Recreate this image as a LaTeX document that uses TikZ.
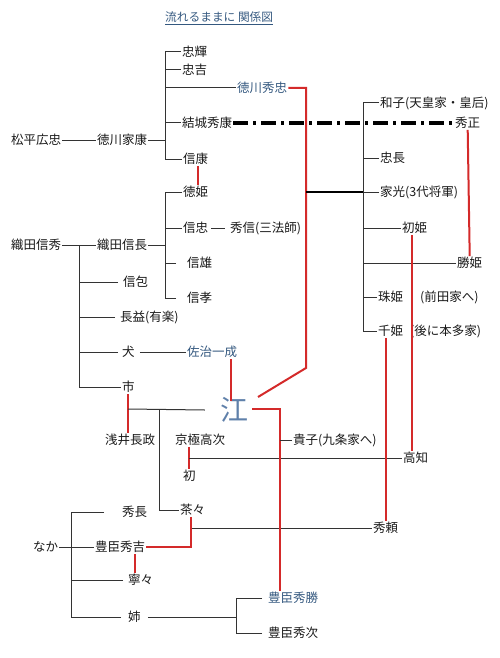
\documentclass[tikz,border=0pt]{standalone}
\usepackage{fontspec}
\newfontfamily\jp{Noto Sans CJK JP}
\definecolor{lnred}{HTML}{D42A2A}
\definecolor{txblue}{HTML}{34587F}
\definecolor{goblue}{HTML}{5F80AA}
\definecolor{godark}{HTML}{3F5F88}
\begin{document}
\begin{tikzpicture}[x=1pt,y=-1pt,
  lbl/.style={font={\jp\fontsize{12.5}{14}\selectfont}, inner sep=1pt, anchor=west, text=black!90},
  bluelbl/.style={lbl, text=txblue},
  bline/.style={line width=1pt, black!80},
  thick line/.style={line width=2pt, black},
  rline/.style={line width=2pt, lnred},
  dashline/.style={line width=3.3pt, black, dash pattern=on 15pt off 5pt on 3pt off 5pt}
]
\useasboundingbox (0,0) rectangle (500,658);

% title
\node[anchor=west, inner sep=1pt, text=txblue, font={\jp\fontsize{11.7}{13}\selectfont}] (title) at (164,18) {\underline{流れるままに 関係図}};

% ---------- Tokugawa ----------
\node[lbl] (hirotada) at (10,140) {松平広忠};
\node[lbl] (ieyasu) at (96,140) {徳川家康};
\node[lbl] (tadateru) at (181,52) {忠輝};
\node[lbl] (tadayoshi) at (181,70) {忠吉};
\node[bluelbl] (hidetada) at (236,88) {徳川秀忠};
\node[lbl] (hideyasu) at (181,123) {結城秀康};
\node[lbl] (nobuyasu) at (182,159) {信康};

\node[lbl] (kazuko) at (379,103) {和子(天皇家・皇后)};
\node[lbl] (hidemasa) at (454,123) {秀正};
\node[lbl] (tadanaga) at (379,158) {忠長};
\node[lbl] (iemitsu) at (379,192) {家光(3代将軍)};
\node[lbl] (hatsuhime) at (401,228) {初姫};
\node[lbl] (katsuhime) at (456,263) {勝姫};
\node[lbl] (tamahime) at (377,297) {珠姫};
\node[lbl] (maeda) at (419,297) {(前田家へ)};
\node[lbl] (senhime) at (377,331) {千姫};
\node[lbl] (honda) at (409,331) {(後に本多家)};

\coordinate (jIe) at (165,140);
\coordinate (jKids) at (363,192);
\coordinate (rTop) at (306,88);
\coordinate (rBend) at (306,368);
\coordinate (rEnd) at (258,397);

\draw[bline] (hirotada) -- (ieyasu);
\draw[bline] (ieyasu) -- (jIe);
\draw[bline] (tadateru.west) -| (jIe);
\draw[bline] (nobuyasu.west) -| (jIe);
\draw[bline] (tadayoshi.west) -- (tadayoshi.west -| jIe);
\draw[bline] (hidetada.west) -- (hidetada.west -| jIe);
\draw[bline] (hideyasu.west) -- (hideyasu.west -| jIe);

\draw[dashline] (hideyasu.east) -- (hidemasa.west);

\draw[rline] (hidetada.east) -- (rTop) -- (rBend) -- (rEnd);
\draw[thick line] (rTop |- jKids) -- (jKids);

\draw[bline] (kazuko.west) -| (jKids);
\draw[bline] (senhime.west) -| (jKids);
\draw[bline] (tadanaga.west) -- (tadanaga.west -| jKids);
\draw[bline] (iemitsu.west) -- (jKids);
\draw[bline] (hatsuhime.west) -- (hatsuhime.west -| jKids);
\draw[bline] (katsuhime.west) -- (katsuhime.west -| jKids);
\draw[bline] (tamahime.west) -- (tamahime.west -| jKids);

\draw[rline] (hidemasa.south) -- (katsuhime.north);

% ---------- Oda ----------
\node[lbl] (nobuhide) at (10,245) {織田信秀};
\node[lbl] (nobunaga) at (96,245) {織田信長};
\node[lbl] (tokuhime) at (182,192) {徳姫};
\node[lbl] (nobutada) at (182,228) {信忠};
\node[lbl] (hidenobu) at (229,228) {秀信(三法師)};
\node[lbl] (nobukatsu) at (186,263) {信雄};
\node[lbl] (nobutaka) at (186,298) {信孝};
\node[lbl] (nobukane) at (122,282) {信包};
\node[lbl] (nagamasu) at (119,317) {長益(有楽)};
\node[lbl] (inu) at (121,352) {犬};
\node[bluelbl] (saji) at (186,352) {佐治一成};
\node[lbl] (ichi) at (121,387) {市};

\coordinate (jNh) at (79,245);
\coordinate (jNn) at (165,245);

\draw[bline] (nobuhide) -- (nobunaga);
\draw[bline] (ichi.west) -| (jNh);
\draw[bline] (nobukane.west) ++(-4,0) -- (nobukane.west -| jNh);
\draw[bline] (nagamasu.west) ++(-4,0) -- (nagamasu.west -| jNh);
\draw[bline] (inu.west) ++(-3,0) -- (inu.west -| jNh);

\draw[bline] (nobunaga) -- (jNn);
\draw[bline] (tokuhime.west) -| (jNn);
\draw[bline] (nobutaka.west) ++(-10,0) -| (jNn);
\draw[bline] (nobutada.west) -- (nobutada.west -| jNn);
\draw[bline] (nobukatsu.west) ++(-10,0) -- (nobukatsu.west -| jNn);
\draw[bline] (nobutada.east) ++(2,0) -- ([xshift=-4pt]hidenobu.west);
\draw[bline] (inu.east) ++(4,0) -- (saji.west);

\draw[rline, line width=1.6pt] (nobuyasu.south) ++(2,0) -- ([xshift=2pt]tokuhime.north);

% ---------- Go and Azai ----------
\node[text=goblue, font={\jp\fontsize{28}{30}\selectfont}, inner sep=0pt] (go) at (234,410) {江};
\node[lbl] (azai) at (104,440) {浅井長政};
\node[lbl] (kyogoku) at (174,440) {京極高次};
\node[lbl] (hatsu) at (182,476) {初};
\node[lbl] (chacha) at (179,510) {茶々};
\node[lbl] (takako) at (292,440) {貴子(九条家へ)};
\node[lbl] (takatomo) at (402,458) {高知};
\node[lbl] (hideyori) at (372,528) {秀頼};

\coordinate (jIchi) at (128,409);
\coordinate (jGo) at (159,409);
\coordinate (jCha) at (191,528);
\coordinate (rGo) at (280,409);

\draw[rline] ([xshift=-3pt]go.north |- saji.south) -- ([xshift=-3pt,yshift=-4pt]go.north);
\draw[rline] (ichi.south) -- (ichi.south |- azai.north);
\draw[bline] (jIchi) -- ([xshift=-15pt]go.west);
\draw[bline] (jGo) |- (chacha.west);

\draw[rline] (kyogoku.south -| hatsu.north) -- (hatsu.north);
\draw[bline] (hatsu.north |- takatomo.west) -- (takatomo.west);
\draw[rline] (hatsuhime.south) ++(-3,0) -- ([xshift=-3pt]hatsuhime.south |- takatomo.north);

\draw[rline] (hideyori.north |- senhime.south) -- (hideyori.north);
\draw[bline] (jCha) -- (hideyori.west);

% ---------- Toyotomi ----------
\node[lbl] (naka) at (32,547) {なか};
\node[lbl] (hidenaga) at (121,512) {秀長};
\node[lbl] (hideyoshi) at (94,547) {豊臣秀吉};
\node[lbl] (nene) at (127,580) {寧々};
\node[lbl] (ane) at (127,617) {姉};
\node[bluelbl] (hidekatsu) at (267,598) {豊臣秀勝};
\node[lbl] (hidetsugu) at (267,633) {豊臣秀次};

\coordinate (jNaka) at (71,547);
\coordinate (jAne) at (236,617);

\draw[rline] (go.east) ++(4,-1) -- (rGo) -- (rGo |- hidekatsu.north);
\draw[bline] (rGo |- takako.west) -- (takako.west);

\draw[rline] (chacha.south -| jCha) -- (jCha |- hideyoshi.east) -- (hideyoshi.east);

\draw[bline] (naka) -- (hideyoshi);
\draw[bline] ([xshift=-17pt]hidenaga.west) -| (jNaka);
\draw[bline] (ane.west) ++(-6,0) -| (jNaka);
\draw[bline] (nene.west) ++(-4,0) -- (nene.west -| jNaka);
\draw[rline] ([xshift=-6pt]nene.north |- hideyoshi.south) -- ([xshift=-6pt]nene.north);

\draw[bline] (ane.east) ++(6,0) -- (jAne);
\draw[bline] ([xshift=-5pt]hidekatsu.west) -| (jAne);
\draw[bline] ([xshift=-5pt]hidetsugu.west) -| (jAne);
\end{tikzpicture}
\end{document}
